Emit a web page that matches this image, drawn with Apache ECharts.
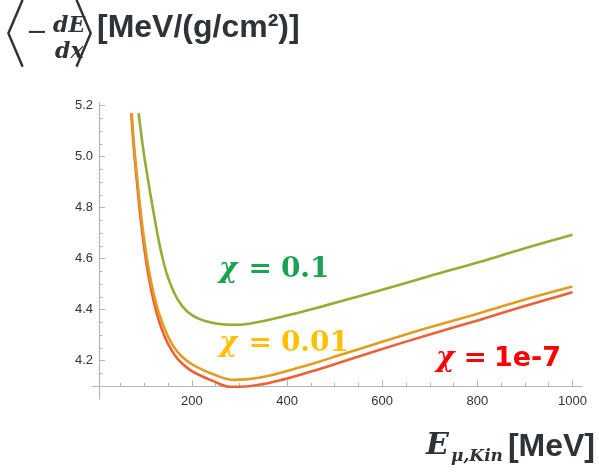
<!DOCTYPE html>
<html>
<head>
<meta charset="utf-8">
<script src="https://cdn.jsdelivr.net/npm/echarts@6/dist/echarts.min.js"></script>
<style>
  html, body { margin: 0; padding: 0; background: #ffffff; }
  #chart { width: 599px; height: 473px; }
</style>
</head>
<body>
<div id="chart"></div>
<script>
// Mean stopping power of a muon vs. kinetic energy for three values of chi
const energyTiny = [72.5, 78, 84, 92, 100, 110, 120, 130, 142, 155, 170, 190, 210, 245, 280, 320, 360, 406, 460, 511, 600, 700, 806, 900, 1000];
const dedxTiny   = [5.17, 5.03, 4.91, 4.76, 4.64, 4.52, 4.43, 4.36, 4.298, 4.248, 4.207, 4.172, 4.149, 4.12, 4.098, 4.100, 4.112, 4.133, 4.163, 4.193, 4.246, 4.303, 4.361, 4.414, 4.468];

const energyMid = [73.5, 78, 84, 92, 100, 110, 120, 130, 142, 155, 170, 190, 210, 245, 287, 320, 360, 406, 460, 511, 600, 700, 806, 900, 1000];
const dedxMid   = [5.17, 5.055, 4.935, 4.79, 4.67, 4.55, 4.46, 4.39, 4.328, 4.276, 4.234, 4.199, 4.176, 4.147, 4.125, 4.128, 4.14, 4.163, 4.192, 4.222, 4.274, 4.331, 4.387, 4.44, 4.491];

const energyBig = [88, 98, 109, 120, 132, 140, 150, 170, 190, 215, 250, 294, 340, 406, 460, 511, 600, 700, 806, 900, 1000];
const dedxBig   = [5.17, 5.025, 4.895, 4.775, 4.655, 4.59, 4.525, 4.44, 4.393, 4.364, 4.346, 4.341, 4.352, 4.38, 4.406, 4.432, 4.478, 4.532, 4.588, 4.641, 4.694];

const xMajorTicks = [200, 400, 600, 800, 1000];
const xMinorTicks = [50, 100, 150, 250, 300, 350, 450, 500, 550, 650, 700, 750, 850, 900, 950];
const yMajorTicks = [4.2, 4.4, 4.6, 4.8, 5.0, 5.2];
const yMinorTicks = [4.15, 4.25, 4.3, 4.35, 4.45, 4.5, 4.55, 4.65, 4.7, 4.75, 4.85, 4.9, 4.95, 5.05, 5.1, 5.15];

const seriesNames = ['χ = 0.1', 'χ = 0.01', 'χ = 1e-7'];
const lineColors = ['#8FB032', '#E19C24', '#EB6235'];

const pairs = (xs, ys) => xs.map((x, i) => [x, ys[i]]);

const axisGray = '#b5b5b5';
const textDark = '#2e3338';

const xBase = {
  type: 'value', min: -10, max: 1020, position: 'bottom', offset: -12.8,
  splitLine: { show: false }
};
const yBase = {
  type: 'value', min: 4.05, max: 5.21, position: 'left', offset: -7.1,
  splitLine: { show: false }
};

const chart = echarts.init(document.getElementById('chart'), null, { renderer: 'canvas' });

const annotation = (left, top, color, parts) => ({
  type: 'text', left, top, style: {
    text: '{c|χ}{e|=}{t|' + parts.value + '}',
    rich: {
      c: { font: 'italic bold 28px "DejaVu Serif"', fill: color },
      e: { font: 'bold 28px "DejaVu Serif"', fill: color, padding: [0, parts.gap, 0, parts.gap + 2] },
      t: { font: parts.font, fill: color }
    }
  }
});

const bracket = (x, glyph) => ({
  type: 'text', x, y: -4, scaleX: 0.65,
  style: { text: glyph, font: '300 74px "Noto Sans CJK TC"', fill: textDark }
});

chart.setOption({
  animation: false,
  backgroundColor: '#ffffff',
  grid: { left: 92, right: 17, top: 103, bottom: 74, containLabel: false },
  xAxis: [
    Object.assign({}, xBase, {
      axisLine: { show: true, lineStyle: { color: axisGray, width: 1.2 } },
      axisTick: { show: true, inside: true, length: 6, customValues: xMajorTicks, lineStyle: { color: axisGray } },
      axisLabel: { show: true, customValues: xMajorTicks, margin: 9, color: textDark, fontSize: 13, fontFamily: 'Liberation Sans',
                   formatter: v => String(v) }
    }),
    Object.assign({}, xBase, {
      axisLine: { show: false },
      axisTick: { show: true, inside: true, length: 3.5, customValues: xMinorTicks, lineStyle: { color: axisGray } },
      axisLabel: { show: false }
    })
  ],
  yAxis: [
    Object.assign({}, yBase, {
      axisLine: { show: true, lineStyle: { color: axisGray, width: 1.2 } },
      axisTick: { show: true, inside: true, length: 6, customValues: yMajorTicks, lineStyle: { color: axisGray } },
      axisLabel: { show: true, customValues: yMajorTicks, margin: 6, color: textDark, fontSize: 13, fontFamily: 'Liberation Sans',
                   formatter: v => v.toFixed(1) }
    }),
    Object.assign({}, yBase, {
      axisLine: { show: false },
      axisTick: { show: true, inside: true, length: 3.5, customValues: yMinorTicks, lineStyle: { color: axisGray } },
      axisLabel: { show: false }
    })
  ],
  series: [
    { name: seriesNames[0], type: 'line', data: pairs(energyBig, dedxBig) },
    { name: seriesNames[1], type: 'line', data: pairs(energyMid, dedxMid) },
    { name: seriesNames[2], type: 'line', data: pairs(energyTiny, dedxTiny) }
  ].map((s, i) => Object.assign(s, {
    xAxisIndex: 0, yAxisIndex: 0, showSymbol: false, symbol: 'none',
    smooth: 0.4, clip: false,
    lineStyle: { color: lineColors[i], width: 2.6 }, z: 5 - i
  })),
  graphic: [
    // y-axis quantity: <-dE/dx> [MeV/(g/cm²)]
    bracket(-22, '〈'),
    { type: 'text', left: 26, top: 20, style: { text: '−', font: '26px "DejaVu Serif"', fill: textDark } },
    { type: 'text', left: 53, top: 15, style: { text: 'dE', font: 'italic bold 22px "DejaVu Serif"', fill: textDark } },
    { type: 'text', left: 55, top: 41, style: { text: 'dx', font: 'italic bold 22px "DejaVu Serif"', fill: textDark } },
    bracket(73, '〉'),
    { type: 'text', left: 97, top: 12, style: { text: '[MeV/(g/cm²)]', font: 'bold 32px "Liberation Sans"', fill: textDark } },
    // x-axis quantity: E_{μ,Kin} [MeV]
    { type: 'text', left: 426, top: 431, style: { text: 'E', font: 'italic bold 30px "DejaVu Serif"', fill: textDark } },
    { type: 'text', left: 451, top: 448, style: { text: 'μ,Kin', font: 'italic bold 17px "DejaVu Serif"', fill: textDark } },
    { type: 'text', right: 4, top: 431, style: { text: '[MeV]', font: 'bold 32px "Liberation Sans"', fill: textDark } },
    // curve annotations
    annotation(219, 256, '#1BA152', { value: '0.1', gap: 9, font: 'bold 28px "DejaVu Serif"' }),
    annotation(219, 330, '#FFC000', { value: '0.01', gap: 9, font: 'bold 28px "DejaVu Serif"' }),
    annotation(436, 345, '#FF0000', { value: '1e-7', gap: 7, font: 'bold 27px "DejaVu Sans"' })
  ]
});
</script>
</body>
</html>
